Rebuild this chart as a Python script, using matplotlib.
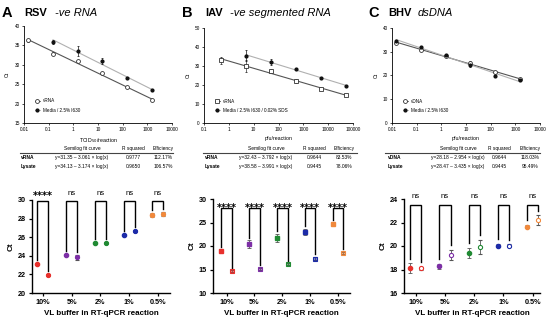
import numpy as np
import matplotlib
matplotlib.use("Agg")
import matplotlib.pyplot as plt
from matplotlib.ticker import FixedLocator, NullLocator

plt.rcParams['font.family'] = ['Liberation Sans', 'DejaVu Sans']

# ---------------- data: top standard curves ----------------
a_x_vrna = [0.015, 0.15, 1.5, 15, 150, 1500]
a_vrna = [36.3, 32.9, 31.0, 27.8, 24.2, 20.8]
a_vrna_err = [0.4, 0.3, 0.3, 0.3, 0.2, 0.2]
a_x_media = [0.15, 1.5, 15, 150, 1500]
a_media = [35.9, 33.5, 30.9, 26.6, 23.4]
a_media_err = [0.5, 1.3, 0.8, 0.2, 0.2]

b_x_vrna = [0.5, 5, 50, 500, 5000, 50000]
b_vrna = [33.0, 30.0, 27.6, 22.2, 17.8, 14.7]
b_vrna_err = [1.8, 3.0, 1.0, 1.0, 0.5, 0.5]
b_x_media = [5, 50, 500, 5000, 50000]
b_media = [35.5, 32.2, 28.2, 23.8, 19.7]
b_media_err = [2.8, 1.5, 0.5, 0.4, 0.4]

c_x_vdna = [0.015, 0.15, 1.5, 15, 150, 1500]
c_vdna = [33.7, 30.9, 28.2, 25.3, 21.5, 18.4]
c_vdna_err = [0.6, 0.4, 0.4, 0.6, 0.3, 0.4]
c_x_media = [0.015, 0.15, 1.5, 15, 150, 1500]
c_media = [34.6, 32.0, 28.7, 24.3, 19.9, 18.0]
c_media_err = [0.5, 0.4, 0.4, 0.7, 0.3, 0.4]

# ---------------- data: fit tables ----------------
tab_a = [["vRNA", "y=31.35 \u2013 3.061 \u00d7 log(x)", "0.9777", "112.17%"],
         ["Lysate", "y=34.13 \u2013 3.174 \u00d7 log(x)", "0.9650", "106.57%"]]
tab_b = [["vRNA", "y=32.43 \u2013 3.792 \u00d7 log(x)", "0.9644", "83.53%"],
         ["Lysate", "y=38.58 \u2013 3.991 \u00d7 log(x)", "0.9445", "78.06%"]]
tab_c = [["vDNA", "y=28.18 \u2013 2.954 \u00d7 log(x)", "0.9644", "118.03%"],
         ["Lysate", "y=28.47 \u2013 3.435 \u00d7 log(x)", "0.9445", "95.49%"]]

# ---------------- data: VL buffer panels ----------------
categories = ["10%", "5%", "2%", "1%", "0.5%"]
colors = ["#e8302c", "#7d2fa6", "#208a33", "#1c2ba8", "#f0893c"]

a_left = [23.1, 24.05, 25.4, 26.25, 28.35]
a_left_err = [0.1, 0.1, 0.05, 0.05, 0.2]
a_right = [21.9, 23.85, 25.4, 26.7, 28.5]
a_right_err = [0.1, 0.25, 0.05, 0.1, 0.2]
a_sig = ["****", "ns", "ns", "ns", "ns"]

b_left = [19.0, 20.4, 21.7, 23.0, 24.75]
b_left_err = [0.2, 0.8, 0.8, 0.7, 0.2]
b_right = [14.6, 15.1, 16.1, 17.3, 18.6]
b_right_err = [0.2, 0.3, 0.2, 0.3, 0.2]
b_sig = ["****", "****", "****", "****", "****"]

c_left = [18.13, 18.27, 19.42, 20.03, 21.65]
c_left_err = [0.4, 0.2, 0.45, 0.15, 0.15]
c_right = [18.1, 19.25, 19.9, 20.03, 22.22]
c_right_err = [0.15, 0.45, 0.6, 0.1, 0.4]
c_sig = ["ns", "ns", "ns", "ns", "ns"]

W, H = 550, 323
fig = plt.figure(figsize=(W / 100, H / 100), dpi=100)


def ax_px(l, t, r, b):
    return fig.add_axes([l / W, 1 - b / H, (r - l) / W, (b - t) / H])


def fx(x):
    return x / W


def fy(y):
    return 1 - y / H


# ---------------- titles ----------------
def title(xl, letter, xb, bold, xi, ital):
    fig.text(fx(xl), fy(13), letter, fontsize=10.5, fontweight='bold', va='center')
    fig.text(fx(xb), fy(13), bold, fontsize=8, fontweight='bold', va='center')
    fig.text(fx(xi), fy(13), ital, fontsize=8, style='italic', va='center')


title(2, "A", 24, "RSV", 55, "-ve RNA")
title(182, "B", 205, "IAV", 230, "-ve segmented RNA")
title(368, "C", 388, "BHV", 418, "dsDNA")


# ---------------- top curves ----------------
def top_panel(box, xlo, xhi, xticks, xticklabels, ylo, yhi, yticks, xlabel,
              x1, y1, e1, x2, y2, e2, lab1, lab2, marker1):
    ax = ax_px(*box)
    ax.set_xscale('log')
    ax.set_xlim(xlo, xhi)
    ax.set_ylim(ylo, yhi)
    for s in ['top', 'right']:
        ax.spines[s].set_visible(False)
    for s in ['left', 'bottom']:
        ax.spines[s].set_linewidth(0.6)
    ax.xaxis.set_major_locator(FixedLocator(xticks))
    ax.set_xticklabels(xticklabels)
    ax.xaxis.set_minor_locator(NullLocator())
    ax.set_yticks(yticks)
    ax.tick_params(labelsize=3.4, length=1.5, width=0.5, pad=1.5)
    ax.set_ylabel("Ct", fontsize=3.8, labelpad=3)
    ax.set_xlabel(xlabel, fontsize=3.8, labelpad=3)
    # fits
    for xs, ys, col in [(x1, y1, '#555555'), (x2, y2, '#b0b0b0')]:
        k, c = np.polyfit(np.log10(xs), ys, 1)
        xx = np.array([xs[0], xs[-1]])
        ax.plot(xx, c + k * np.log10(xx), color=col, lw=0.8, zorder=1)
    ax.errorbar(x1, y1, yerr=e1, fmt=marker1, ms=2.8, mfc='white', mec='#333333',
                mew=0.6, ecolor='#333333', elinewidth=0.5, capsize=1, capthick=0.5,
                zorder=3)
    ax.errorbar(x2, y2, yerr=e2, fmt='o', ms=2.0, color='#111111',
                elinewidth=0.5, capsize=1, capthick=0.5, zorder=4)
    h1 = ax.plot([], [], marker=marker1, ms=2.8, mfc='white', mec='#333333',
                 mew=0.6, color='#555555', lw=0.6)[0]
    h2 = ax.plot([], [], marker='o', ms=2.0, color='#b0b0b0', lw=0.6,
                 mfc='#111111', mec='#111111')[0]
    ax.legend([h1, h2], [lab1, lab2], loc='lower left', fontsize=3.3,
              frameon=False, handlelength=1.2, borderaxespad=0.6,
              labelspacing=0.9, handletextpad=0.6, bbox_to_anchor=(0.04, 0.06))
    return ax


top_panel((24, 26, 172, 123), 0.01, 10000, [0.01, 0.1, 1, 10, 100, 1000, 10000],
          ["0.01", "0.1", "1", "10", "100", "1000", "10000"], 15, 40,
          [15, 20, 25, 30, 35, 40], "TCID$_{50}$/reaction",
          a_x_vrna, a_vrna, a_vrna_err, a_x_media, a_media, a_media_err,
          "vRNA", "Media / 2.5% I630", 'o')
top_panel((204, 28, 353, 123), 0.1, 100000, [0.1, 1, 10, 100, 1000, 10000, 100000],
          ["0.1", "1", "10", "100", "1000", "10000", "100000"], 0, 50,
          [0, 10, 20, 30, 40, 50], "pfu/reaction",
          b_x_vrna, b_vrna, b_vrna_err, b_x_media, b_media, b_media_err,
          "vRNA", "Media / 2.5% I630 / 0.02% SDS", 's')
top_panel((392, 28, 540, 123), 0.01, 10000, [0.01, 0.1, 1, 10, 100, 1000, 10000],
          ["0.01", "0.1", "1", "10", "100", "1000", "10000"], 0, 40,
          [0, 10, 20, 30, 40], "pfu/reaction",
          c_x_vdna, c_vdna, c_vdna_err, c_x_media, c_media, c_media_err,
          "vDNA", "Media / 2.5% I630", 'o')


# ---------------- tables ----------------
def table(rows, x0, x1, xname, xform, xr2, xeff):
    fs = 3.5
    fig.text(fx(xform), fy(148.5), "Semilog fit curve", fontsize=fs, ha='center', va='center')
    fig.text(fx(xr2), fy(148.5), "R squared", fontsize=fs, ha='center', va='center')
    fig.text(fx(xeff), fy(148.5), "Efficiency", fontsize=fs, ha='center', va='center')
    fig.add_artist(plt.Line2D([fx(x0), fx(x1)], [fy(152.5), fy(152.5)],
                              color='#444444', lw=0.8))
    for i, r in enumerate(rows):
        y = fy(157.5 + i * 8.5)
        fig.text(fx(xname), y, r[0], fontsize=fs, fontweight='bold', ha='left', va='center')
        fig.text(fx(xform), y, r[1], fontsize=fs, ha='center', va='center')
        fig.text(fx(xr2), y, r[2], fontsize=fs, ha='center', va='center')
        fig.text(fx(xeff), y, r[3], fontsize=fs, ha='center', va='center')


table(tab_a, 20, 173, 21, 82, 133, 163)
table(tab_b, 203, 357, 205, 266, 314, 344)
table(tab_c, 385, 540, 388, 458, 499, 530)


# ---------------- bottom panels ----------------
def bottom_panel(box, xlim, ylim, yticks, left, le, right, re_, sig,
                 mk_left, mk_right, right_style, top_br, gap, sig_y):
    ax = ax_px(*box)
    ax.set_xlim(*xlim)
    ax.set_ylim(*ylim)
    for s in ['top', 'right']:
        ax.spines[s].set_visible(False)
    for s in ['left', 'bottom']:
        ax.spines[s].set_linewidth(1.0)
    ax.set_yticks(yticks)
    ax.set_xticks(range(len(categories)))
    ax.set_xticklabels(categories)
    ax.tick_params(labelsize=5.2, length=2.5, width=0.9, pad=2)
    for lab in ax.get_xticklabels() + ax.get_yticklabels():
        lab.set_fontweight('bold')
    ax.set_ylabel("Ct", fontsize=5.8, fontweight='bold', labelpad=2)
    ax.set_xlabel("VL buffer in RT-qPCR reaction", fontsize=5.8,
                  fontweight='bold', labelpad=3)
    off = 0.19
    for i, col in enumerate(colors):
        xl, xr = i - off, i + off
        ax.errorbar([xl], [left[i]], yerr=[le[i]], fmt=mk_left, ms=3, color=col,
                    mec=col, mfc=col, elinewidth=0.6, capsize=1.2, capthick=0.6,
                    ecolor='#555555', zorder=3)
        if right_style == 'open':
            mfc = 'white'
        elif right_style == 'light':
            mfc = matplotlib.colors.to_rgba(col, 0.55)
        else:
            mfc = col
        ax.errorbar([xr], [right[i]], yerr=[re_[i]], fmt=mk_right, ms=3, color=col,
                    mec=col, mfc=mfc, mew=0.8, elinewidth=0.6, capsize=1.2,
                    capthick=0.6, ecolor='#555555', zorder=3)
        yl = left[i] + le[i] + gap
        yr = right[i] + re_[i] + gap
        ax.plot([xl, xl, xr, xr], [yl, top_br, top_br, yr], color='black',
                lw=1.0, clip_on=False, zorder=2, solid_joinstyle='miter')
        if sig[i] == 'ns':
            ax.text(i, sig_y, sig[i], ha='center', va='center', fontsize=5.5,
                    clip_on=False)
        else:
            ax.annotate(sig[i], (i, sig_y), xytext=(0, -1.9),
                        textcoords='offset points', ha='center', va='center',
                        fontsize=7, fontweight='bold', family='DejaVu Sans',
                        annotation_clip=False)
    return ax


bottom_panel((32, 200, 170, 293), (-0.38, 4.42), (20, 30), [20, 22, 24, 26, 28, 30],
             a_left, a_left_err, a_right, a_right_err, a_sig, 'o', 'o', 'filled',
             29.9, 0.35, 30.75)
bottom_panel((213, 199, 350, 293), (-0.49, 4.43), (10, 30), [10, 15, 20, 25, 30],
             b_left, b_left_err, b_right, b_right_err, b_sig, 's', 's', 'light',
             28.1, 0.6, 28.65)
bottom_panel((404, 199, 540, 293), (-0.4, 4.25), (16, 24), [16, 18, 20, 22, 24],
             c_left, c_left_err, c_right, c_right_err, c_sig, 'o', 'o', 'open',
             23.52, 0.4, 24.2)

fig.savefig("out.png", dpi=100)
